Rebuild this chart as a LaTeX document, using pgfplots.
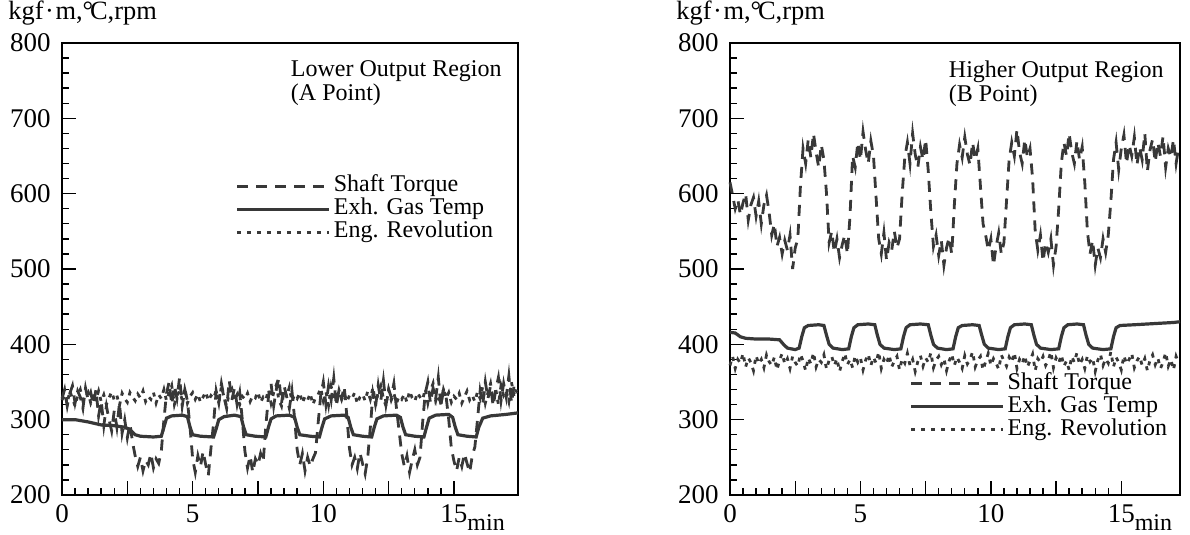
\documentclass[border=0pt]{standalone}
\usepackage{fontspec}
\setmainfont{Liberation Serif}
\usepackage{pgfplots}
\pgfplotsset{compat=1.18}

\newcommand\chartfont{\fontsize{12}{12}\selectfont}
\newcommand\tickfont{\fontsize{13.5}{13.5}\selectfont}
\newcommand\unitfont{\fontsize{13.2}{13.2}\selectfont}
\definecolor{ink}{gray}{0.22}

\pgfplotsset{
  panel/.style={
    scale only axis,
    clip=false,
    height=226pt,
    ymin=200, ymax=800,
    ytick={200,300,...,800},
    minor y tick num=4,
    xtick={0,2.5,...,15},
    xticklabels={0,,5,,10,,15\rlap{\raisebox{-0.3em}{\chartfont min}}},
    minor x tick num=4,
    tick pos=left,
    major tick length=7pt,
    minor tick length=3.5pt,
    every tick/.style={black, line width=0.7pt},
    axis line style={black, line width=0.8pt},
    tick label style={font=\tickfont},
    yticklabel style={xshift=-1.5pt},
    xticklabel style={yshift=-0.5pt},
    /pgf/number format/assume math mode=true,
    yticklabel={\pgfmathprintnumber[1000 sep={}]{\tick}},
    legend style={draw=none, fill=none, font=\chartfont, inner sep=0pt,
      row sep=0pt,
      nodes={inner xsep=1.5pt, inner ysep=0pt, text height=8.5pt, text depth=3pt}},
    legend cell align=left,
    legend image code/.code={\draw[#1] (0pt,0pt) -- (46pt,0pt);},
  },
  torque/.style={ink, line width=1.4pt, dash pattern=on 5.5pt off 4pt},
  gastemp/.style={ink, line width=1.6pt},
  revol/.style={ink, line width=1.4pt, dash pattern=on 2pt off 3pt},
}

\begin{document}
\chartfont
\begin{tikzpicture}
% ---------------- lower output region ----------------
\begin{axis}[panel, at={(31pt,20pt)}, anchor=south west,
  width=228pt, xmin=0, xmax=17.45,
  legend style={at={(rel axis cs:0.380,0.632)}, anchor=west}]
\addplot[torque] coordinates {
(0.0,328) (0.1,340) (0.2,318) (0.3,335) (0.4,345) (0.5,322) (0.6,338) (0.7,330) (0.8,315) (0.9,342)
(1.0,326) (1.1,336) (1.2,320) (1.3,340) (1.4,305) (1.5,325) (1.6,292) (1.7,318) (1.8,300) (1.9,285)
(2.0,312) (2.1,290) (2.2,322) (2.3,282) (2.4,300) (2.5,276) (2.6,295) (2.7,270) (2.8,252) (2.9,238)
(3.0,250) (3.1,232) (3.2,246) (3.3,240) (3.4,255) (3.5,236) (3.6,248) (3.7,242) (3.8,258) (3.9,300)
(4.0,335) (4.1,350) (4.2,320) (4.3,345) (4.4,328) (4.5,356) (4.6,318) (4.7,340) (4.8,325) (4.9,290)
(5.0,248) (5.1,230) (5.2,252) (5.3,238) (5.4,258) (5.5,240) (5.6,226) (5.7,262) (5.8,295) (5.9,338)
(6.0,322) (6.1,348) (6.2,330) (6.3,315) (6.4,352) (6.5,326) (6.6,342) (6.7,320) (6.8,336) (6.9,300)
(7.0,258) (7.1,236) (7.2,252) (7.3,230) (7.4,248) (7.5,240) (7.6,255) (7.7,244) (7.8,292) (7.9,330)
(8.0,348) (8.1,318) (8.2,340) (8.3,355) (8.4,322) (8.5,345) (8.6,330) (8.7,315) (8.8,338) (8.9,302)
(9.0,260) (9.1,240) (9.2,255) (9.3,232) (9.4,250) (9.5,238) (9.6,248) (9.7,256) (9.8,295) (9.9,332)
(10.0,350) (10.1,320) (10.2,345) (10.3,326) (10.4,355) (10.5,318) (10.6,340) (10.7,328) (10.8,344) (10.9,305)
(11.0,262) (11.1,240) (11.2,250) (11.3,235) (11.4,256) (11.5,242) (11.6,228) (11.7,250) (11.8,290) (11.9,335)
(12.0,318) (12.1,346) (12.2,325) (12.3,352) (12.4,320) (12.5,340) (12.6,330) (12.7,348) (12.8,315) (12.9,285)
(13.0,255) (13.1,238) (13.2,252) (13.3,230) (13.4,246) (13.5,260) (13.6,240) (13.7,250) (13.8,296) (13.9,335)
(14.0,350) (14.1,322) (14.2,342) (14.3,328) (14.4,356) (14.5,318) (14.6,340) (14.7,330) (14.8,300) (14.9,262)
(15.0,245) (15.1,232) (15.2,250) (15.3,238) (15.4,255) (15.5,242) (15.6,230) (15.7,252) (15.8,264) (15.9,300)
(16.0,338) (16.1,320) (16.2,350) (16.3,328) (16.4,345) (16.5,318) (16.6,340) (16.7,356) (16.8,325) (16.9,348)
(17.0,330) (17.1,358) (17.2,322) (17.3,345) (17.4,335)};
\addlegendentry{Shaft Torque}
\addplot[gastemp] coordinates {
(0,300) (0.5,300) (1.0,297) (1.5,293) (2.0,292) (2.4,290) (2.6,287) (2.8,280) (3.0,278) (3.5,277) (3.8,278)
(3.9,290) (4.0,302) (4.2,305) (4.6,306) (4.8,304) (4.9,290) (5.0,280) (5.3,278) (5.8,277)
(5.9,288) (6.0,300) (6.2,304) (6.6,306) (6.85,304) (6.95,290) (7.05,280) (7.4,278) (7.8,277)
(7.9,290) (8.0,301) (8.2,305) (8.7,306) (8.9,303) (9.0,290) (9.1,280) (9.5,278) (9.85,277)
(9.95,290) (10.05,301) (10.3,305) (10.8,306) (10.95,303) (11.05,290) (11.15,280) (11.5,278) (11.85,277)
(11.95,290) (12.05,301) (12.3,305) (12.8,306) (12.95,303) (13.05,290) (13.15,280) (13.5,278) (13.85,277)
(13.95,290) (14.05,302) (14.3,306) (14.8,307) (14.95,303) (15.05,290) (15.15,280) (15.5,278) (15.85,277)
(15.95,290) (16.1,302) (16.4,305) (17.0,307) (17.45,309)};
\addlegendentry{Exh. Gas Temp}
\addplot[revol] coordinates {
(0.0,326) (0.1,334) (0.2,322) (0.3,338) (0.4,328) (0.5,318) (0.6,332) (0.7,340) (0.8,325) (0.9,330)
(1.0,336) (1.1,322) (1.2,331) (1.3,327) (1.4,338) (1.5,324) (1.6,333) (1.7,320) (1.8,329) (1.9,337)
(2.0,326) (2.1,332) (2.2,319) (2.3,335) (2.4,328) (2.5,323) (2.6,336) (2.7,330) (2.8,325) (2.9,334)
(3.0,329) (3.1,338) (3.2,324) (3.3,331) (3.4,327) (3.5,336) (3.6,322) (3.7,333) (3.8,328) (3.9,340)
(4.0,325) (4.1,335) (4.2,345) (4.3,320) (4.4,332) (4.5,338) (4.6,326) (4.7,342) (4.8,322) (4.9,331)
(5.0,336) (5.1,327) (5.2,334) (5.3,323) (5.4,330) (5.5,337) (5.6,325) (5.7,332) (5.8,328) (5.9,339)
(6.0,322) (6.1,344) (6.2,330) (6.3,318) (6.4,336) (6.5,341) (6.6,325) (6.7,333) (6.8,320) (6.9,331)
(7.0,327) (7.1,335) (7.2,324) (7.3,332) (7.4,329) (7.5,337) (7.6,323) (7.7,330) (7.8,326) (7.9,340)
(8.0,322) (8.1,336) (8.2,346) (8.3,326) (8.4,318) (8.5,338) (8.6,331) (8.7,343) (8.8,324) (8.9,333)
(9.0,328) (9.1,336) (9.2,322) (9.3,331) (9.4,326) (9.5,335) (9.6,320) (9.7,329) (9.8,333) (9.9,342)
(10.0,325) (10.1,337) (10.2,319) (10.3,344) (10.4,330) (10.5,322) (10.6,339) (10.7,327) (10.8,335) (10.9,324)
(11.0,332) (11.1,328) (11.2,336) (11.3,321) (11.4,330) (11.5,334) (11.6,325) (11.7,338) (11.8,327) (11.9,343)
(12.0,320) (12.1,336) (12.2,345) (12.3,328) (12.4,318) (12.5,340) (12.6,326) (12.7,335) (12.8,322) (12.9,331)
(13.0,327) (13.1,334) (13.2,323) (13.3,338) (13.4,329) (13.5,324) (13.6,336) (13.7,330) (13.8,326) (13.9,341)
(14.0,322) (14.1,338) (14.2,348) (14.3,325) (14.4,333) (14.5,319) (14.6,342) (14.7,328) (14.8,336) (14.9,323)
(15.0,331) (15.1,327) (15.2,335) (15.3,322) (15.4,330) (15.5,338) (15.6,326) (15.7,332) (15.8,324) (15.9,337)
(16.0,328) (16.1,344) (16.2,322) (16.3,336) (16.4,348) (16.5,326) (16.6,340) (16.7,320) (16.8,345) (16.9,332)
(17.0,338) (17.1,324) (17.2,350) (17.3,330) (17.4,340)};
\addlegendentry{Eng. Revolution}
\node[anchor=north east, align=left, inner sep=0pt, font=\chartfont]
  at (rel axis cs:1,1) [xshift=-8pt, yshift=-8.5pt] {Lower Output Region\\(A Point)};
\node[anchor=base west, inner sep=0pt, font=\unitfont]
  at (rel axis cs:0,1) [xshift=-27pt, yshift=11.5pt] {kgf\kern0.8pt·\kern0.8pt m,°\kern-0.12em C,rpm};
\end{axis}

% ---------------- higher output region ----------------
\begin{axis}[panel, at={(365pt,20pt)}, anchor=south west,
  width=225pt, xmin=0, xmax=17.25,
  legend style={at={(rel axis cs:0.398,0.195)}, anchor=west}]
\addplot[torque] coordinates {
(0.0,615) (0.1,598) (0.2,580) (0.3,592) (0.4,572) (0.5,588) (0.6,600) (0.7,565) (0.8,585) (0.9,595)
(1.0,570) (1.1,590) (1.2,560) (1.3,585) (1.4,598) (1.5,575) (1.6,545) (1.7,560) (1.8,530) (1.9,542)
(2.0,520) (2.1,538) (2.2,525) (2.3,545) (2.4,500) (2.5,528) (2.6,540) (2.7,610) (2.8,660) (2.9,640)
(3.0,672) (3.1,648) (3.2,680) (3.3,655) (3.4,635) (3.5,665) (3.6,645) (3.7,600) (3.8,535) (3.9,550)
(4.0,522) (4.1,540) (4.2,515) (4.3,532) (4.4,545) (4.5,520) (4.6,570) (4.7,650) (4.8,635) (4.9,668)
(5.0,645) (5.1,682) (5.2,658) (5.3,640) (5.4,670) (5.5,650) (5.6,595) (5.7,540) (5.8,520) (5.9,548)
(6.0,512) (6.1,535) (6.2,525) (6.3,550) (6.4,528) (6.5,540) (6.6,600) (6.7,648) (6.8,668) (6.9,640)
(7.0,680) (7.1,652) (7.2,635) (7.3,662) (7.4,645) (7.5,672) (7.6,630) (7.7,575) (7.8,530) (7.9,545)
(8.0,518) (8.1,538) (8.2,505) (8.3,528) (8.4,542) (8.5,520) (8.6,585) (8.7,640) (8.8,665) (8.9,648)
(9.0,675) (9.1,652) (9.2,638) (9.3,668) (9.4,645) (9.5,660) (9.6,610) (9.7,560) (9.8,545) (9.9,525)
(10.0,540) (10.1,505) (10.2,530) (10.3,548) (10.4,520) (10.5,535) (10.6,590) (10.7,645) (10.8,668) (10.9,650)
(11.0,685) (11.1,655) (11.2,640) (11.3,672) (11.4,648) (11.5,660) (11.6,620) (11.7,550) (11.8,525) (11.9,545)
(12.0,510) (12.1,535) (12.2,522) (12.3,540) (12.4,505) (12.5,530) (12.6,580) (12.7,640) (12.8,668) (12.9,650)
(13.0,680) (13.1,655) (13.2,640) (13.3,670) (13.4,645) (13.5,662) (13.6,615) (13.7,550) (13.8,520) (13.9,538)
(14.0,505) (14.1,528) (14.2,515) (14.3,540) (14.4,522) (14.5,545) (14.6,590) (14.7,645) (14.8,668) (14.9,632)
(15.0,660) (15.1,678) (15.2,640) (15.3,665) (15.4,650) (15.5,675) (15.6,638) (15.7,662) (15.8,645) (15.9,680)
(16.0,630) (16.1,658) (16.2,672) (16.3,642) (16.4,668) (16.5,650) (16.6,676) (16.7,635) (16.8,660) (16.9,648)
(17.0,672) (17.1,640) (17.2,662)};
\addlegendentry{Shaft Torque}
\addplot[gastemp] coordinates {
(0,416) (0.2,415) (0.4,410) (0.6,408) (1.0,407) (1.5,407) (1.9,406) (2.05,400) (2.2,395) (2.5,393) (2.65,395)
(2.75,410) (2.85,422) (3.0,425) (3.4,426) (3.6,425) (3.7,412) (3.8,400) (3.95,395) (4.3,393) (4.55,394)
(4.65,410) (4.75,422) (4.9,426) (5.3,427) (5.55,426) (5.65,412) (5.75,400) (5.9,395) (6.3,393) (6.55,394)
(6.65,410) (6.75,422) (6.9,426) (7.3,427) (7.6,426) (7.7,412) (7.8,400) (7.95,395) (8.3,393) (8.55,394)
(8.65,410) (8.75,422) (8.9,425) (9.3,426) (9.55,425) (9.65,412) (9.75,400) (9.9,395) (10.3,393) (10.55,394)
(10.65,410) (10.75,422) (10.9,426) (11.3,427) (11.55,426) (11.65,412) (11.75,400) (11.9,395) (12.3,393) (12.6,394)
(12.7,410) (12.8,422) (12.95,426) (13.3,427) (13.55,426) (13.65,412) (13.75,400) (13.9,395) (14.3,393) (14.6,394)
(14.7,410) (14.8,422) (14.95,425) (15.5,426) (16.0,427) (16.5,428) (17.0,429) (17.25,430)};
\addlegendentry{Exh. Gas Temp}
\addplot[revol] coordinates {
(0.0,372) (0.1,384) (0.2,368) (0.3,380) (0.4,375) (0.5,388) (0.6,370) (0.7,382) (0.8,376) (0.9,365)
(1.0,385) (1.1,374) (1.2,380) (1.3,369) (1.4,386) (1.5,377) (1.6,372) (1.7,383) (1.8,366) (1.9,379)
(2.0,388) (2.1,374) (2.2,381) (2.3,368) (2.4,384) (2.5,376) (2.6,371) (2.7,387) (2.8,378) (2.9,365)
(3.0,382) (3.1,374) (3.2,389) (3.3,370) (3.4,380) (3.5,376) (3.6,386) (3.7,367) (3.8,379) (3.9,384)
(4.0,372) (4.1,381) (4.2,364) (4.3,377) (4.4,388) (4.5,373) (4.6,380) (4.7,369) (4.8,385) (4.9,376)
(5.0,382) (5.1,366) (5.2,379) (5.3,387) (5.4,372) (5.5,383) (5.6,375) (5.7,390) (5.8,368) (5.9,380)
(6.0,374) (6.1,386) (6.2,370) (6.3,378) (6.4,384) (6.5,366) (6.6,381) (6.7,375) (6.8,388) (6.9,372)
(7.0,380) (7.1,364) (7.2,377) (7.3,385) (7.4,371) (7.5,382) (7.6,376) (7.7,389) (7.8,369) (7.9,379)
(8.0,384) (8.1,373) (8.2,381) (8.3,365) (8.4,378) (8.5,387) (8.6,372) (8.7,383) (8.8,376) (8.9,368)
(9.0,385) (9.1,374) (9.2,380) (9.3,390) (9.4,370) (9.5,379) (9.6,384) (9.7,366) (9.8,377) (9.9,388)
(10.0,372) (10.1,381) (10.2,375) (10.3,367) (10.4,386) (10.5,378) (10.6,371) (10.7,383) (10.8,376) (10.9,389)
(11.0,368) (11.1,380) (11.2,374) (11.3,385) (11.4,370) (11.5,378) (11.6,387) (11.7,365) (11.8,381) (11.9,376)
(12.0,384) (12.1,372) (12.2,379) (12.3,390) (12.4,369) (12.5,382) (12.6,375) (12.7,386) (12.8,371) (12.9,378)
(13.0,366) (13.1,384) (13.2,376) (13.3,389) (13.4,373) (13.5,380) (13.6,368) (13.7,385) (13.8,377) (13.9,382)
(14.0,364) (14.1,379) (14.2,387) (14.3,372) (14.4,381) (14.5,375) (14.6,390) (14.7,370) (14.8,383) (14.9,376)
(15.0,366) (15.1,385) (15.2,374) (15.3,380) (15.4,388) (15.5,369) (15.6,378) (15.7,384) (15.8,372) (15.9,381)
(16.0,365) (16.1,379) (16.2,386) (16.3,373) (16.4,382) (16.5,368) (16.6,376) (16.7,389) (16.8,371) (16.9,380)
(17.0,366) (17.1,384) (17.2,375)};
\addlegendentry{Eng. Revolution}
\node[anchor=north east, align=left, inner sep=0pt, font=\chartfont]
  at (rel axis cs:1,1) [xshift=-8pt, yshift=-8.5pt] {Higher Output Region\\(B Point)};
\node[anchor=base west, inner sep=0pt, font=\unitfont]
  at (rel axis cs:0,1) [xshift=-27pt, yshift=11.5pt] {kgf\kern0.8pt·\kern0.8pt m,°\kern-0.12em C,rpm};
\end{axis}
\pgfresetboundingbox
\path[use as bounding box] (0,0) rectangle (595pt,267.5pt);
\end{tikzpicture}
\end{document}
